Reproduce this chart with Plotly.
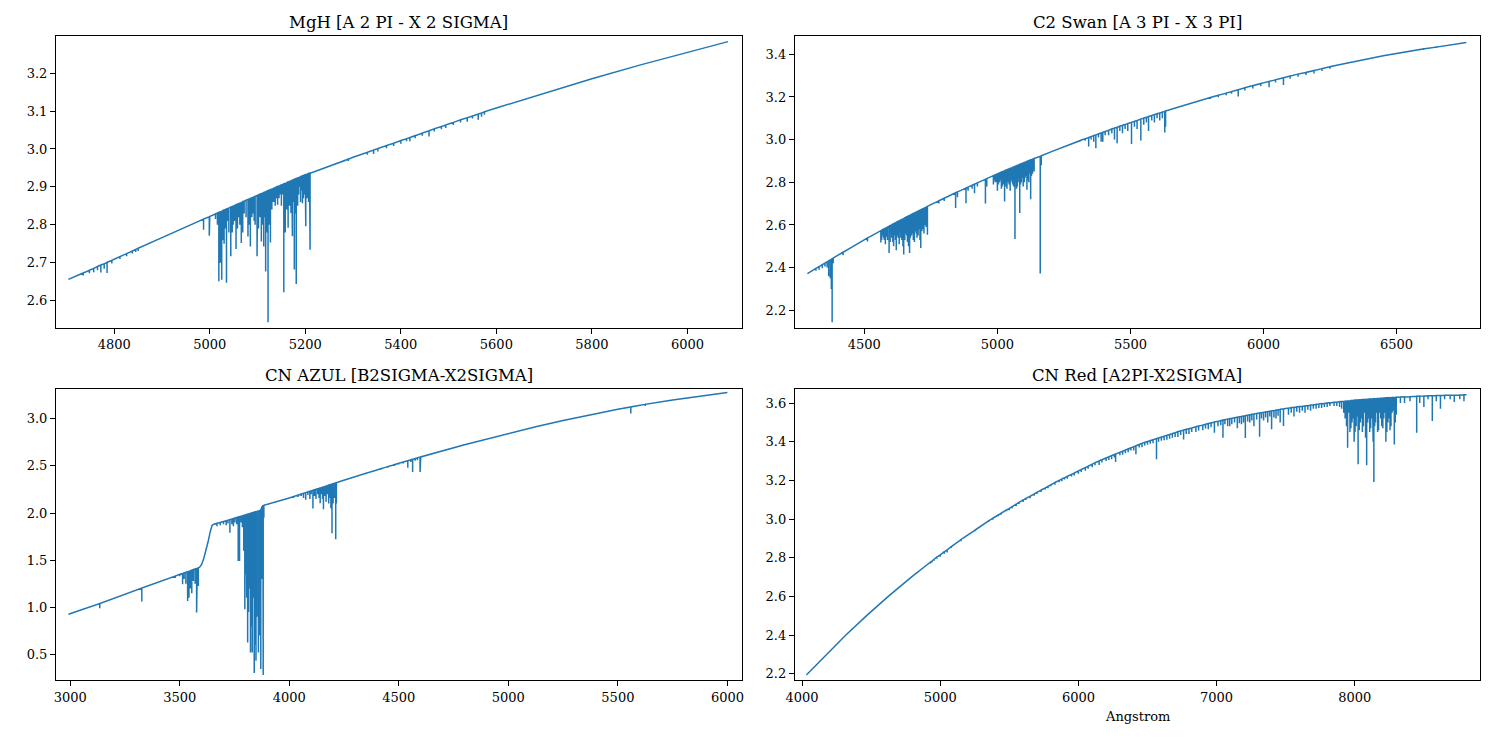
import plotly.graph_objects as go

# ---------------- MgH [A 2 PI - X 2 SIGMA] ----------------
mgh_cont_wave = [4704, 4800, 4900, 5000, 5100, 5200, 5300, 5400, 5500, 5600, 5700, 5800, 5900, 6000, 6085]
mgh_cont_flux = [2.656, 2.709, 2.766, 2.822, 2.878, 2.932, 2.978, 3.022, 3.066, 3.108, 3.147, 3.185, 3.221, 3.255, 3.283]
mgh_line_wave = [4735, 4748, 4757, 4765, 4772, 4779, 4785, 4795, 4812, 4826, 4838, 4845, 4850,
                 4987, 4999, 5012, 5019, 5022, 5025, 5030, 5035, 5040, 5044, 5049, 5055, 5060, 5066,
                 5072, 5080, 5085, 5090, 5095, 5099, 5104, 5108, 5113, 5117, 5122, 5127, 5132, 5137,
                 5142, 5148, 5155, 5158, 5161, 5164, 5167, 5170, 5173, 5177, 5181, 5184, 5188, 5194,
                 5198, 5201, 5204, 5207, 5210,
                 5290, 5330, 5343, 5352, 5370, 5385, 5400, 5412, 5419, 5430, 5445, 5459, 5470, 5485,
                 5494, 5510, 5525, 5539, 5550, 5562, 5569, 5575]
mgh_line_top = [2.673, 2.680, 2.685, 2.690, 2.694, 2.697, 2.701, 2.706, 2.716, 2.724, 2.731, 2.735, 2.738,
                2.815, 2.821, 2.829, 2.833, 2.834, 2.836, 2.839, 2.842, 2.844, 2.847, 2.849, 2.853, 2.856, 2.859,
                2.862, 2.867, 2.870, 2.872, 2.875, 2.877, 2.880, 2.882, 2.885, 2.887, 2.890, 2.893, 2.895, 2.898,
                2.901, 2.904, 2.908, 2.909, 2.911, 2.913, 2.914, 2.916, 2.917, 2.920, 2.922, 2.923, 2.925, 2.929,
                2.931, 2.932, 2.934, 2.935, 2.936,
                2.973, 2.991, 2.997, 3.001, 3.009, 3.015, 3.022, 3.027, 3.030, 3.035, 3.042, 3.048, 3.053, 3.059,
                3.063, 3.070, 3.077, 3.082, 3.087, 3.092, 3.095, 3.098]
mgh_line_bottom = [2.666, 2.672, 2.675, 2.680, 2.674, 2.684, 2.673, 2.698, 2.710, 2.717, 2.724, 2.728, 2.731,
                   2.787, 2.771, 2.815, 2.651, 2.700, 2.655, 2.750, 2.647, 2.780, 2.717, 2.800, 2.736, 2.820, 2.752,
                   2.830, 2.769, 2.743, 2.830, 2.800, 2.717, 2.820, 2.756, 2.743, 2.677, 2.543, 2.753, 2.860, 2.850,
                   2.853, 2.880, 2.622, 2.780, 2.840, 2.792, 2.850, 2.831, 2.770, 2.682, 2.644, 2.850, 2.900, 2.857,
                   2.880, 2.796, 2.870, 2.860, 2.734,
                   2.968, 2.985, 2.987, 2.993, 3.002, 3.008, 3.014, 3.020, 3.020, 3.028, 3.035, 3.033, 3.046, 3.052,
                   3.055, 3.063, 3.070, 3.072, 3.080, 3.077, 3.085, 3.090]
# weaker lines filling the 5016-5209 band
mgh_band_wave = [5016, 5028, 5032, 5038, 5047, 5052, 5058, 5063, 5069, 5076, 5083, 5088, 5093, 5102,
                 5106, 5111, 5115, 5120, 5125, 5130, 5135, 5140, 5145, 5150, 5152, 5160, 5163, 5166,
                 5169, 5172, 5175, 5179, 5183, 5186, 5190, 5192, 5196, 5200, 5203, 5206, 5209]
mgh_band_top = [2.831, 2.838, 2.840, 2.843, 2.848, 2.851, 2.854, 2.857, 2.861, 2.865, 2.868, 2.871, 2.874, 2.879,
                2.881, 2.884, 2.886, 2.889, 2.892, 2.894, 2.897, 2.900, 2.902, 2.905, 2.906, 2.910, 2.912, 2.914,
                2.915, 2.917, 2.919, 2.921, 2.923, 2.924, 2.927, 2.928, 2.930, 2.932, 2.933, 2.935, 2.936]
mgh_band_bottom = [2.800, 2.760, 2.790, 2.810, 2.780, 2.810, 2.790, 2.800, 2.780, 2.820, 2.800, 2.820, 2.810, 2.790,
                   2.820, 2.800, 2.820, 2.780, 2.800, 2.840, 2.860, 2.870, 2.870, 2.850, 2.880, 2.850, 2.830, 2.860,
                   2.840, 2.850, 2.860, 2.830, 2.870, 2.880, 2.860, 2.890, 2.870, 2.850, 2.890, 2.880, 2.870]

# ---------------- C2 Swan [A 3 PI - X 3 PI] ----------------
c2_cont_wave = [4286, 4330, 4390, 4450, 4525, 4600, 4675, 4750, 4843, 4937, 5018, 5100, 5208, 5316,
                5433, 5550, 5678, 5807, 5953, 6100, 6275, 6450, 6606, 6762]
c2_cont_flux = [2.372, 2.405, 2.450, 2.494, 2.548, 2.599, 2.648, 2.695, 2.751, 2.804, 2.849, 2.892, 2.946, 2.998,
                3.051, 3.101, 3.152, 3.200, 3.251, 3.298, 3.349, 3.393, 3.426, 3.455]
c2_line_wave = [4318, 4330, 4342, 4352, 4360, 4366, 4372, 4376, 4379, 4383, 4420, 4512,
                4562, 4568, 4575, 4583, 4593, 4600, 4607, 4614, 4620, 4627, 4634, 4641, 4648, 4655,
                4662, 4670, 4677, 4684, 4691, 4698, 4705, 4712, 4720, 4728, 4737,
                4780, 4800, 4843, 4850, 4882, 4890, 4905, 4914, 4925, 4955, 4960,
                4985, 4992, 5000, 5008, 5015, 5022, 5027, 5033, 5040, 5048, 5055, 5061, 5066, 5072,
                5078, 5084, 5090, 5097, 5104, 5111, 5118, 5125, 5132, 5138, 5161, 5165,
                5310, 5330, 5343, 5352, 5362, 5370, 5380, 5390, 5396, 5405, 5418, 5430, 5440, 5450,
                5460, 5470, 5480, 5490, 5504, 5515, 5525, 5539, 5550, 5560, 5568, 5580, 5590, 5600,
                5610, 5620, 5629, 5632,
                5800, 5830, 5860, 5880, 5905, 5930, 5960, 5990, 6021, 6045, 6075, 6100, 6130, 6160,
                6190, 6220, 6250, 6600, 6650, 6700]
c2_line_top = [2.396, 2.405, 2.414, 2.421, 2.427, 2.432, 2.436, 2.439, 2.441, 2.444, 2.472, 2.539,
               2.573, 2.577, 2.582, 2.587, 2.594, 2.599, 2.604, 2.608, 2.612, 2.617, 2.621, 2.626, 2.630, 2.635,
               2.640, 2.645, 2.649, 2.654, 2.658, 2.662, 2.667, 2.671, 2.676, 2.681, 2.687,
               2.713, 2.725, 2.751, 2.755, 2.773, 2.777, 2.786, 2.791, 2.797, 2.814, 2.817,
               2.831, 2.835, 2.839, 2.844, 2.848, 2.851, 2.854, 2.857, 2.861, 2.865, 2.868, 2.871, 2.874, 2.877,
               2.880, 2.884, 2.887, 2.890, 2.894, 2.898, 2.901, 2.905, 2.908, 2.911, 2.922, 2.924,
               2.995, 3.004, 3.010, 3.014, 3.019, 3.022, 3.027, 3.031, 3.034, 3.038, 3.044, 3.050, 3.054, 3.058,
               3.063, 3.067, 3.071, 3.075, 3.081, 3.086, 3.090, 3.096, 3.101, 3.105, 3.108, 3.113, 3.117, 3.121,
               3.125, 3.129, 3.132, 3.134,
               3.197, 3.208, 3.218, 3.225, 3.234, 3.243, 3.253, 3.263, 3.273, 3.280, 3.290, 3.298, 3.307, 3.315,
               3.324, 3.333, 3.342, 3.425, 3.434, 3.443]
c2_line_bottom = [2.385, 2.390, 2.397, 2.405, 2.400, 2.360, 2.350, 2.300, 2.144, 2.420, 2.458, 2.523,
                  2.518, 2.550, 2.530, 2.545, 2.468, 2.560, 2.520, 2.550, 2.481, 2.540, 2.570, 2.530, 2.461, 2.560,
                  2.520, 2.468, 2.550, 2.530, 2.570, 2.540, 2.580, 2.492, 2.580, 2.600, 2.554,
                  2.700, 2.712, 2.679, 2.730, 2.702, 2.760, 2.770, 2.749, 2.780, 2.700, 2.780,
                  2.790, 2.800, 2.760, 2.800, 2.770, 2.790, 2.710, 2.780, 2.800, 2.760, 2.800, 2.780, 2.534, 2.770,
                  2.800, 2.656, 2.800, 2.780, 2.820, 2.765, 2.800, 2.721, 2.840, 2.850, 2.372, 2.880,
                  2.990, 2.995, 2.968, 3.000, 2.990, 2.960, 3.010, 2.990, 2.990, 3.020, 3.020, 3.030, 3.000, 2.983,
                  3.040, 3.030, 3.050, 3.040, 2.980, 3.060, 3.050, 2.996, 3.070, 3.080, 3.040, 3.090, 3.080, 3.100,
                  3.090, 3.100, 3.033, 3.060,
                  3.190, 3.199, 3.208, 3.215, 3.202, 3.230, 3.240, 3.250, 3.246, 3.268, 3.256, 3.285, 3.295, 3.303,
                  3.310, 3.322, 3.332, 3.420, 3.430, 3.440]
# weaker lines filling the two Swan bands
c2_band_wave = [4565, 4572, 4579, 4587, 4597, 4603, 4610, 4617, 4624, 4631, 4637, 4645, 4652, 4659,
                4666, 4673, 4680, 4688, 4695, 4702, 4709, 4716, 4724, 4732,
                4988, 4996, 5004, 5011, 5018, 5030, 5036, 5044, 5051, 5058, 5069, 5075, 5081, 5087,
                5094, 5101, 5108, 5115, 5121, 5128, 5135]
c2_band_top = [2.575, 2.580, 2.584, 2.590, 2.597, 2.601, 2.606, 2.610, 2.615, 2.619, 2.623, 2.628, 2.633, 2.638,
               2.642, 2.647, 2.651, 2.656, 2.660, 2.665, 2.669, 2.673, 2.678, 2.683,
               2.832, 2.837, 2.841, 2.846, 2.849, 2.856, 2.859, 2.863, 2.866, 2.870, 2.876, 2.879, 2.882, 2.885,
               2.889, 2.893, 2.896, 2.900, 2.903, 2.906, 2.910]
c2_band_bottom = [2.530, 2.540, 2.510, 2.530, 2.520, 2.540, 2.500, 2.530, 2.550, 2.510, 2.540, 2.500, 2.530, 2.550,
                  2.500, 2.540, 2.560, 2.520, 2.560, 2.550, 2.530, 2.570, 2.560, 2.590,
                  2.810, 2.800, 2.790, 2.810, 2.780, 2.800, 2.770, 2.790, 2.810, 2.790, 2.800, 2.780, 2.820, 2.790,
                  2.820, 2.800, 2.830, 2.810, 2.840, 2.830, 2.860]

# ---------------- CN AZUL [B2SIGMA-X2SIGMA] ----------------
cnb_cont_wave = [2992, 3590, 3600, 3610, 3620, 3630, 3640, 3648, 3656, 3700, 3800, 3870, 3880,
                 4000, 4100, 4238, 4400, 4500, 4600, 4800, 5000, 5125, 5250, 5375, 5500, 5625, 5750, 5875, 6000]
cnb_cont_flux = [0.927, 1.423, 1.455, 1.520, 1.600, 1.700, 1.810, 1.870, 1.882, 1.910, 1.980, 2.030, 2.080,
                 2.160, 2.235, 2.340, 2.457, 2.527, 2.595, 2.725, 2.845, 2.915, 2.981, 3.043, 3.100, 3.153, 3.200, 3.242, 3.278]
cnb_line_wave = [3135, 3327, 3480, 3500, 3513, 3520, 3528, 3536, 3542, 3548, 3555, 3562, 3570, 3577, 3580, 3585,
                 3670, 3685, 3700, 3712, 3720, 3729, 3738, 3745, 3752, 3760, 3767, 3773, 3780, 3786, 3792,
                 3797, 3802, 3806, 3810, 3814, 3818, 3823, 3827, 3831, 3835, 3840, 3844, 3848, 3852, 3856,
                 3859, 3863, 3866, 3870, 3874, 3878, 3881, 3884,
                 4020, 4040, 4055, 4065, 4075, 4085, 4094, 4100, 4108, 4115, 4122, 4130, 4136, 4141, 4147,
                 4152, 4156, 4162, 4168, 4174, 4180, 4185, 4190, 4195, 4200, 4205, 4210, 4212, 4215,
                 4350, 4420, 4450, 4480, 4500, 4520, 4541, 4555, 4563, 4575, 4585, 4597, 5559, 5625]
cnb_line_top = [1.040, 1.205, 1.332, 1.349, 1.359, 1.365, 1.372, 1.378, 1.383, 1.388, 1.394, 1.400, 1.406, 1.412, 1.415, 1.419,
                1.891, 1.900, 1.910, 1.918, 1.924, 1.930, 1.937, 1.941, 1.946, 1.952, 1.957, 1.961, 1.966, 1.970, 1.974,
                1.978, 1.981, 1.984, 1.987, 1.990, 1.993, 1.996, 1.999, 2.002, 2.005, 2.009, 2.011, 2.014, 2.017, 2.020,
                2.022, 2.025, 2.027, 2.030, 2.060, 2.075, 2.080, 2.082,
                2.175, 2.190, 2.201, 2.209, 2.216, 2.224, 2.231, 2.235, 2.241, 2.246, 2.252, 2.258, 2.262, 2.266, 2.271,
                2.274, 2.277, 2.282, 2.286, 2.291, 2.296, 2.299, 2.303, 2.307, 2.311, 2.315, 2.318, 2.320, 2.322,
                2.421, 2.471, 2.492, 2.513, 2.527, 2.541, 2.555, 2.565, 2.570, 2.578, 2.585, 2.593, 3.125, 3.153]
cnb_line_bottom = [0.990, 1.061, 1.310, 1.330, 1.245, 1.300, 1.250, 1.068, 1.100, 1.200, 1.150, 1.280, 1.250, 0.945, 0.960, 1.227,
                   1.860, 1.870, 1.880, 1.870, 1.890, 1.792, 1.880, 1.860, 1.900, 1.880, 1.490, 1.492, 1.900, 1.850, 1.600,
                   0.980, 1.350, 1.100, 0.627, 0.950, 1.200, 0.520, 0.800, 0.521, 1.100, 0.302, 0.600, 0.433, 0.900, 0.750,
                   0.520, 1.400, 0.700, 0.345, 1.300, 0.450, 0.281, 1.950,
                   2.160, 2.170, 2.180, 2.160, 2.140, 2.190, 2.150, 2.200, 2.047, 2.180, 2.150, 2.200, 2.160, 2.103, 2.200,
                   2.150, 2.040, 2.180, 2.120, 2.200, 2.100, 2.160, 2.050, 1.785, 2.100, 2.160, 2.050, 1.722, 2.100,
                   2.412, 2.460, 2.480, 2.500, 2.515, 2.525, 2.481, 2.540, 2.435, 2.555, 2.560, 2.435, 3.056, 3.135]

# ---------------- CN Red [A2PI-X2SIGMA] ----------------
cnr_cont_wave = [4031, 4174, 4317, 4471, 4626, 4795, 4964, 5165, 5367, 5608, 5849, 6158, 6468, 6734,
                 7000, 7250, 7500, 7750, 8000, 8250, 8500, 8809]
cnr_cont_flux = [2.193, 2.299, 2.400, 2.503, 2.601, 2.702, 2.797, 2.902, 2.998, 3.102, 3.196, 3.304, 3.394, 3.455,
                 3.505, 3.541, 3.572, 3.596, 3.615, 3.628, 3.637, 3.643]
cnr_line_wave = [4930, 4940, 4955, 4975, 5000, 5030, 5050, 5080, 5150, 5250, 5350, 5420, 5480, 5550, 5600,
                 5650, 5700, 5760, 5800, 5860, 5900, 5950, 6000, 6050, 6100, 6150, 6200, 6240, 6269, 6300,
                 6340, 6380, 6416, 6440, 6480, 6520, 6565, 6600, 6640, 6680, 6720, 6761, 6800, 6850, 6900,
                 6940, 6984, 7010, 7046, 7080, 7110, 7150, 7180, 7208, 7240, 7270, 7311, 7340, 7370, 7398,
                 7430, 7460, 7484, 7520, 7560, 7600, 7640, 7680, 7720, 7760, 7800, 7850, 7890, 7920, 7948,
                 7965, 7980, 7995, 8010, 8024, 8040, 8055, 8070, 8086, 8100, 8115, 8128, 8138, 8150, 8165,
                 8180, 8195, 8210, 8225, 8240, 8255, 8270, 8286, 8300, 8330, 8360, 8400, 8448, 8470, 8500,
                 8530, 8561, 8590, 8620, 8650, 8690, 8720, 8760, 8790]
cnr_line_top = [2.778, 2.783, 2.791, 2.803, 2.815, 2.831, 2.841, 2.857, 2.894, 2.942, 2.990, 3.021, 3.047, 3.077, 3.099,
                3.118, 3.138, 3.161, 3.177, 3.200, 3.214, 3.231, 3.249, 3.266, 3.284, 3.301, 3.316, 3.328, 3.336, 3.345,
                3.357, 3.368, 3.379, 3.386, 3.397, 3.406, 3.416, 3.424, 3.433, 3.442, 3.452, 3.460, 3.467, 3.477, 3.486,
                3.494, 3.502, 3.506, 3.512, 3.517, 3.521, 3.527, 3.531, 3.535, 3.540, 3.543, 3.549, 3.552, 3.556, 3.559,
                3.563, 3.567, 3.570, 3.574, 3.578, 3.582, 3.585, 3.589, 3.593, 3.597, 3.600, 3.604, 3.607, 3.609, 3.611,
                3.612, 3.613, 3.615, 3.616, 3.616, 3.617, 3.618, 3.619, 3.619, 3.620, 3.621, 3.622, 3.622, 3.623, 3.624,
                3.624, 3.625, 3.626, 3.627, 3.627, 3.628, 3.629, 3.629, 3.630, 3.631, 3.632, 3.633, 3.635, 3.636, 3.637,
                3.638, 3.638, 3.639, 3.639, 3.640, 3.641, 3.641, 3.642, 3.643]
cnr_line_bottom = [2.770, 2.775, 2.784, 2.795, 2.805, 2.820, 2.827, 2.850, 2.885, 2.935, 2.985, 3.014, 3.040, 3.068, 3.088,
                   3.108, 3.130, 3.153, 3.170, 3.190, 3.205, 3.220, 3.235, 3.250, 3.268, 3.280, 3.300, 3.310, 3.295, 3.330,
                   3.340, 3.355, 3.335, 3.370, 3.380, 3.390, 3.309, 3.405, 3.410, 3.420, 3.425, 3.412, 3.440, 3.450, 3.460,
                   3.465, 3.447, 3.480, 3.421, 3.480, 3.490, 3.470, 3.490, 3.419, 3.500, 3.480, 3.426, 3.510, 3.500, 3.464,
                   3.520, 3.500, 3.481, 3.540, 3.530, 3.550, 3.550, 3.560, 3.570, 3.575, 3.580, 3.585, 3.580, 3.550, 3.369,
                   3.450, 3.500, 3.400, 3.480, 3.283, 3.500, 3.450, 3.550, 3.278, 3.520, 3.470, 3.550, 3.192, 3.500, 3.450,
                   3.550, 3.480, 3.520, 3.400, 3.500, 3.460, 3.550, 3.386, 3.540, 3.600, 3.600, 3.610, 3.447, 3.600, 3.580,
                   3.620, 3.507, 3.610, 3.570, 3.620, 3.620, 3.605, 3.620, 3.610]
# weaker lines: the dense red-system forest
cnr_weak_wave = [5380, 5440, 5500, 5520, 5570, 5620, 5680, 5730, 5780, 5830, 5880, 5920, 5970, 6020, 6070,
                 6120, 6170, 6220, 6260, 6320, 6360, 6400, 6460, 6500, 6540, 6580, 6620, 6660, 6700, 6740,
                 6780, 6820, 6870, 6920, 6960, 7030, 7060, 7095, 7130, 7165, 7195, 7225, 7255, 7290, 7325,
                 7355, 7385, 7415, 7445, 7540, 7580, 7620, 7660, 7700, 7740, 7780, 7820, 7870, 7905,
                 7930, 7940, 7955, 7972, 7988, 8002, 8017, 8032, 8047, 8062, 8078, 8093, 8108, 8122, 8133,
                 8144, 8158, 8172, 8188, 8203, 8218, 8232, 8248, 8262, 8278, 8293]
cnr_weak_top = [3.004, 3.030, 3.055, 3.064, 3.086, 3.107, 3.130, 3.150, 3.169, 3.189, 3.207, 3.221, 3.238, 3.256, 3.273,
                3.291, 3.307, 3.322, 3.334, 3.351, 3.363, 3.374, 3.392, 3.401, 3.410, 3.419, 3.428, 3.437, 3.446, 3.456,
                3.464, 3.471, 3.481, 3.490, 3.497, 3.509, 3.514, 3.519, 3.524, 3.529, 3.533, 3.537, 3.542, 3.546, 3.550,
                3.554, 3.558, 3.561, 3.565, 3.576, 3.580, 3.583, 3.587, 3.591, 3.595, 3.598, 3.601, 3.605, 3.608,
                3.610, 3.610, 3.611, 3.613, 3.614, 3.615, 3.616, 3.617, 3.617, 3.618, 3.619, 3.620, 3.621, 3.621, 3.622,
                3.622, 3.623, 3.624, 3.625, 3.625, 3.626, 3.627, 3.628, 3.628, 3.629, 3.629]
cnr_weak_bottom = [2.997, 3.022, 3.046, 3.055, 3.078, 3.098, 3.121, 3.140, 3.160, 3.178, 3.195, 3.208, 3.225, 3.243, 3.260,
                   3.278, 3.292, 3.305, 3.318, 3.333, 3.345, 3.355, 3.372, 3.385, 3.392, 3.400, 3.408, 3.415, 3.425, 3.435,
                   3.440, 3.450, 3.458, 3.468, 3.475, 3.485, 3.490, 3.480, 3.500, 3.495, 3.500, 3.505, 3.510, 3.515, 3.520,
                   3.525, 3.530, 3.525, 3.535, 3.550, 3.555, 3.560, 3.565, 3.570, 3.575, 3.580, 3.585, 3.585, 3.570,
                   3.520, 3.480, 3.550, 3.470, 3.520, 3.450, 3.530, 3.460, 3.520, 3.480, 3.420, 3.500, 3.450, 3.520, 3.400,
                   3.480, 3.550, 3.460, 3.520, 3.470, 3.550, 3.450, 3.520, 3.480, 3.560, 3.500]

titles = ["MgH [A 2 PI - X 2 SIGMA]", "C2 Swan [A 3 PI - X 3 PI]",
          "CN AZUL [B2SIGMA-X2SIGMA]", "CN Red [A2PI-X2SIGMA]"]
x_ticks = [[4800, 5000, 5200, 5400, 5600, 5800, 6000],
           [4500, 5000, 5500, 6000, 6500],
           [3000, 3500, 4000, 4500, 5000, 5500, 6000],
           [4000, 5000, 6000, 7000, 8000]]
y_ticks = [[2.6, 2.7, 2.8, 2.9, 3.0, 3.1, 3.2],
           [2.2, 2.4, 2.6, 2.8, 3.0, 3.2, 3.4],
           [0.5, 1.0, 1.5, 2.0, 2.5, 3.0],
           [2.2, 2.4, 2.6, 2.8, 3.0, 3.2, 3.4, 3.6]]
x_label = "Angstrom"


def spectrum(cont_wave, cont_flux, line_wave, line_top, line_bottom):
    events = [(w, 0, [f]) for w, f in zip(cont_wave, cont_flux)]
    events += [(w, 1, [t, b, t]) for w, t, b in zip(line_wave, line_top, line_bottom)]
    events.sort(key=lambda e: (e[0], e[1]))
    xs, ys = [], []
    for w, _, fl in events:
        xs += [w] * len(fl)
        ys += fl
    return xs, ys


data = [
    (mgh_cont_wave, mgh_cont_flux, mgh_line_wave + mgh_band_wave,
     mgh_line_top + mgh_band_top, mgh_line_bottom + mgh_band_bottom),
    (c2_cont_wave, c2_cont_flux, c2_line_wave + c2_band_wave,
     c2_line_top + c2_band_top, c2_line_bottom + c2_band_bottom),
    (cnb_cont_wave, cnb_cont_flux, cnb_line_wave, cnb_line_top, cnb_line_bottom),
    (cnr_cont_wave, cnr_cont_flux, cnr_line_wave + cnr_weak_wave,
     cnr_line_top + cnr_weak_top, cnr_line_bottom + cnr_weak_bottom),
]

W, H = 1500, 740
# panel pixel boxes (left, right, top, bottom)
boxes = [(47.3, 738.3, 36.0, 328.0), (791.7, 1481.7, 36.0, 328.0),
         (47.3, 738.3, 389.3, 681.0), (791.7, 1481.7, 389.3, 681.0)]
x_ranges = [[4678, 6114], [4239, 6813], [2935, 6066], [3948, 8905]]
y_ranges = [[2.529, 3.298], [2.119, 3.486], [0.228, 3.318], [2.167, 3.674]]

FONT = "DejaVu Serif"
fig = go.Figure()
layout = dict(width=W, height=H, margin=dict(l=0, r=0, t=0, b=0), autosize=False,
              paper_bgcolor="white", plot_bgcolor="white", showlegend=False,
              font=dict(family=FONT, size=13, color="black"))
annotations = []
for i, (d, box) in enumerate(zip(data, boxes)):
    xs, ys = spectrum(*d)
    sfx = "" if i == 0 else str(i + 1)
    fig.add_trace(go.Scatter(x=xs, y=ys, mode="lines", xaxis="x" + sfx, yaxis="y" + sfx,
                             line=dict(color="#1f77b4", width=1.5), hoverinfo="skip"))
    l, r, t, b = box
    common = dict(showgrid=False, zeroline=False, showline=True, linecolor="black", linewidth=1,
                  mirror=True, ticks="outside", ticklen=5, tickwidth=1, tickcolor="black",
                  tickfont=dict(family=FONT, size=13, color="black"))
    layout["xaxis" + sfx] = dict(domain=[l / W, r / W], anchor="y" + sfx, range=x_ranges[i],
                                 tickmode="array", tickvals=x_ticks[i], tickformat="d", **common)
    layout["yaxis" + sfx] = dict(domain=[1 - b / H, 1 - t / H], anchor="x" + sfx, range=y_ranges[i],
                                 tickmode="array", tickvals=y_ticks[i], tickformat=".1f", **common)
    annotations.append(dict(text=titles[i], x=(l + r) / 2 / W, y=1 - t / H, xref="paper", yref="paper",
                            xanchor="center", yanchor="bottom", yshift=2, showarrow=False,
                            font=dict(family=FONT, size=16.5, color="black")))
    if i == 3:
        annotations.append(dict(text=x_label, x=(l + r) / 2 / W, y=1 - 717 / H, xref="paper", yref="paper",
                                xanchor="center", yanchor="middle", showarrow=False,
                                font=dict(family=FONT, size=13, color="black")))
layout["annotations"] = annotations
fig.update_layout(**layout)
fig.write_html("out.html", config={"displayModeBar": False},
               post_script="document.body.style.margin='0';")
